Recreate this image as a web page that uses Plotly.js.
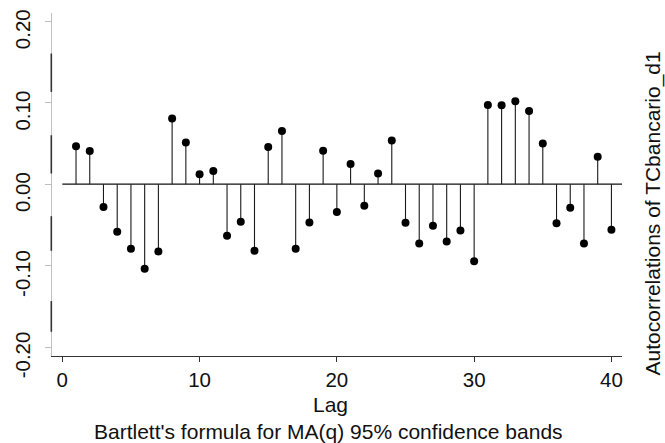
<!DOCTYPE html>
<html>
<head>
<meta charset="utf-8">
<script src="https://cdn.plot.ly/plotly-3.0.1.min.js"></script>
<style>html,body{margin:0;padding:0;background:#fff;}#chart{width:665px;height:443px;}</style>
</head>
<body>
<div id="chart"></div>
<script>
// Data
const lags = [1,2,3,4,5,6,7,8,9,10,11,12,13,14,15,16,17,18,19,20,21,22,23,24,25,26,27,28,29,30,31,32,33,34,35,36,37,38,39,40];
const acValues = [0.0466,0.0408,-0.0279,-0.0585,-0.0794,-0.1040,-0.0826,0.0806,0.0511,0.0123,0.0163,-0.0634,-0.0462,-0.0818,0.0458,0.0654,-0.0794,-0.0470,0.0409,-0.0342,0.0249,-0.0266,0.0131,0.0536,-0.0475,-0.0727,-0.0511,-0.0703,-0.0570,-0.0945,0.0973,0.0969,0.1018,0.0899,0.0499,-0.0479,-0.0290,-0.0727,0.0336,-0.0561];
const xTickVals = [0,10,20,30,40];
const xTickText = ['0','10','20','30','40'];
const yTickVals = [-0.2,-0.1,0,0.1,0.2];
const yTickText = ['-0.20','-0.10','0.00','0.10','0.20'];
const xTitle = 'Lag';
const noteText = "Bartlett's formula for MA(q) 95% confidence bands";
const yTitle = 'Autocorrelations of TCbancario_d1';

const stemX = [], stemY = [];
lags.forEach((l, i) => { stemX.push(l, l, null); stemY.push(0, acValues[i], null); });

const XR = [-0.75, 40.77];
const YR = [-0.211, 0.2102];

const font = "Liberation Sans, Arial, Helvetica, sans-serif";

const traces = [
  {x: stemX, y: stemY, type: 'scatter', mode: 'lines', line: {color: '#1a1a1a', width: 1.1}, hoverinfo: 'skip', showlegend: false},
  {x: lags, y: acValues, type: 'scatter', mode: 'markers', marker: {color: '#000', size: 8}, showlegend: false}
];

const segs = [[0.1604,0.1133],[0.0601,0.0131],[-0.0393,-0.0818],[-0.1436,-0.1812]];
const shapes = [
  {type: 'line', xref: 'x', yref: 'y', x0: 0, x1: XR[1], y0: 0, y1: 0, line: {color: '#111', width: 1.3}, layer: 'below'}
];
segs.forEach(s => shapes.push({type: 'line', xref: 'paper', yref: 'y', x0: -0.0012, x1: -0.0012, y0: s[0], y1: s[1], line: {color: '#333', width: 1.6}}));

const layout = {
  width: 665, height: 443,
  margin: {l: 52, r: 43.3, t: 12.7, b: 87, pad: 0},
  paper_bgcolor: '#fff', plot_bgcolor: '#fff',
  font: {family: font, color: '#111', size: 20.5},
  showlegend: false,
  xaxis: {
    range: XR, tickvals: xTickVals, ticktext: xTickText,
    showgrid: false, zeroline: false, showline: true, linecolor: '#333', linewidth: 1.3,
    ticks: 'outside', ticklen: 5, tickcolor: '#333', tickwidth: 1.2,
    tickfont: {family: font, size: 20.5, color: '#111'}
  },
  yaxis: {
    range: YR, tickvals: yTickVals, ticktext: yTickText, tickangle: -90,
    ticklabelshift: 11, ticklabelstandoff: 7,
    showgrid: false, zeroline: false, showline: true, linecolor: '#c0c0c0', linewidth: 1,
    ticks: 'outside', ticklen: 6, tickcolor: '#c0c0c0', tickwidth: 1,
    tickfont: {family: font, size: 20.5, color: '#111'}
  },
  shapes: shapes,
  annotations: [
    {text: xTitle, xref: 'paper', yref: 'paper', x: (330.5-52)/569.7, y: 0, yshift: -48, xanchor: 'center', yanchor: 'middle', showarrow: false, font: {family: font, size: 21, color: '#111'}},
    {text: noteText, xref: 'paper', yref: 'paper', x: (328-52)/569.7, y: 0, yshift: -75, xanchor: 'center', yanchor: 'middle', showarrow: false, font: {family: font, size: 21, color: '#111'}},
    {text: yTitle, xref: 'paper', yref: 'paper', x: 1, xshift: 653-621.7, y: 1 - (213-12.7)/343.3, xanchor: 'center', yanchor: 'middle', textangle: -90, showarrow: false, font: {family: font, size: 21, color: '#111'}}
  ]
};

Plotly.newPlot('chart', traces, layout, {staticPlot: true, displayModeBar: false});
</script>
</body>
</html>
